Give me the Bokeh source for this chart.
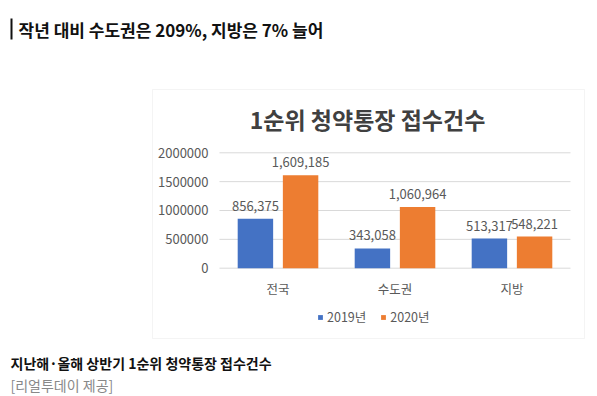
from bokeh.plotting import figure
from bokeh.models import ColumnDataSource, Label, BoxAnnotation, Range1d
from bokeh.transform import dodge
from bokeh.core.properties import value
from bokeh.embed import file_html
from bokeh.resources import INLINE

# ---- data ----
categories = ["전국", "수도권", "지방"]
series_names = ["2019년", "2020년"]
values_2019 = [856375, 343058, 513317]
values_2020 = [1609185, 1060964, 548221]
y_ticks = [0, 500000, 1000000, 1500000, 2000000]
y_tick_labels = ["0", "500000", "1000000", "1500000", "2000000"]
chart_title = "1순위 청약통장 접수건수"
heading = "작년 대비 수도권은 209%, 지방은 7% 늘어"
caption = "지난해·올해 상반기 1순위 청약통장 접수건수"
source_note = "[리얼투데이 제공]"

FONT = "Noto Sans CJK KR"
BLUE = "#4472C4"
ORANGE = "#ED7D31"
GRAY = "#595959"

idx = list(range(len(categories)))
src = ColumnDataSource(dict(
    x=idx, cat=categories,
    v19=values_2019, v20=values_2020,
    l19=[f"{v:,}" for v in values_2019],
    l20=[f"{v:,}" for v in values_2020],
))
n = len(categories)
tick_src = ColumnDataSource(dict(y=y_ticks, t=y_tick_labels,
                                 x0=[-0.5] * len(y_ticks), x1=[n - 0.5] * len(y_ticks)))

W, H = 597, 396
p = figure(width=W, height=H,
           x_range=Range1d(-2.3718, 2.7308), y_range=Range1d(-2223567, 4639509),
           x_axis_type=None, y_axis_type=None,
           output_backend="svg", toolbar_location=None,
           min_border=0, outline_line_color=None,
           background_fill_color="white", border_fill_color="white")
p.title.visible = False

# grid lines
p.segment(x0="x0", x1="x1", y0="y", y1="y", source=tick_src,
          line_color="#d9d9d9", line_width=1)

# chart frame box
p.add_layout(BoxAnnotation(left=152, right=584, top=307, bottom=58,
                           left_units="screen", right_units="screen",
                           top_units="screen", bottom_units="screen",
                           fill_alpha=0, line_color="#d9d9d9", line_width=1))

bw = 0.303
off = 0.193
p.vbar(x=dodge("x", -off, range=p.x_range), top="v19", width=bw, source=src,
       color=BLUE, line_color=None, legend_label=series_names[0])
p.vbar(x=dodge("x", off, range=p.x_range), top="v20", width=bw, source=src,
       color=ORANGE, line_color=None, legend_label=series_names[1])

# data labels
p.text(x=dodge("x", -off, range=p.x_range), y="v19", text="l19", source=src,
       text_font=value(FONT), text_font_size="13px", text_color=GRAY,
       text_align="center", text_baseline="alphabetic", y_offset=-13)
p.text(x=dodge("x", off, range=p.x_range), y="v20", text="l20", source=src,
       text_font=value(FONT), text_font_size="13px", text_color=GRAY,
       text_align="center", text_baseline="alphabetic", y_offset=-13)

# y tick labels
p.text(x="x0", y="y", text="t", source=tick_src, x_offset=-11,
       text_font=value(FONT), text_font_size="13px", text_color=GRAY,
       text_align="right", text_baseline="middle")

# category labels
p.text(x="x", y=0, text="cat", source=src, y_offset=20,
       text_font=value(FONT), text_font_size="12.5px", text_color=GRAY,
       text_align="center", text_baseline="middle")

# legend
leg = p.legend[0]
leg.orientation = "horizontal"
leg.location = (317, 70)
leg.glyph_width = 6
leg.glyph_height = 6
leg.label_height = 14
leg.label_standoff = 4
leg.spacing = 14
leg.padding = 0
leg.margin = 0
leg.border_line_color = None
leg.background_fill_alpha = 0
leg.label_text_font = FONT
leg.label_text_font_size = "12.5px"
leg.label_text_color = GRAY

# chart title
p.add_layout(Label(x=367, y=278, x_units="screen", y_units="screen", text=chart_title,
                   text_font=FONT, text_font_size="23px", text_font_style="bold",
                   text_color="#404040", text_align="center", text_baseline="middle"))

# heading with bar
p.add_layout(BoxAnnotation(left=10, right=12, top=378, bottom=357,
                           left_units="screen", right_units="screen",
                           top_units="screen", bottom_units="screen",
                           fill_color="#111111", fill_alpha=1, line_color=None))
p.add_layout(Label(x=18, y=367, x_units="screen", y_units="screen", text=heading,
                   text_font=FONT, text_font_size="17px", text_font_style="bold",
                   text_color="#111111", text_align="left", text_baseline="middle"))

# caption and source
p.add_layout(Label(x=10, y=34, x_units="screen", y_units="screen", text=caption,
                   text_font=FONT, text_font_size="14px", text_font_style="bold",
                   text_color="#111111", text_align="left", text_baseline="middle"))
p.add_layout(Label(x=10, y=12, x_units="screen", y_units="screen", text=source_note,
                   text_font=FONT, text_font_size="14px",
                   text_color="#888888", text_align="left", text_baseline="middle"))

open("out.html", "w").write(file_html(p, INLINE))
